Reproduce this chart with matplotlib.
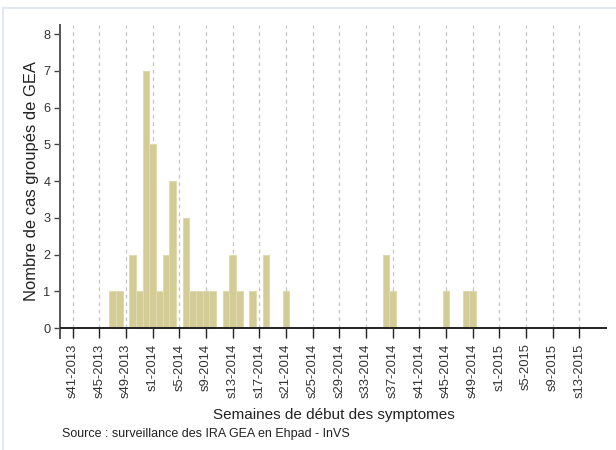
import matplotlib
matplotlib.use('Agg')
import matplotlib.pyplot as plt
from matplotlib.lines import Line2D

# weekly counts of GEA clusters (only non-empty weeks)
case_weeks = ['s47-2013', 's48-2013', 's50-2013', 's51-2013', 's52-2013',
              's1-2014', 's2-2014', 's3-2014', 's4-2014', 's6-2014',
              's7-2014', 's8-2014', 's9-2014', 's10-2014', 's12-2014',
              's13-2014', 's14-2014', 's16-2014', 's18-2014', 's21-2014',
              's36-2014', 's37-2014', 's45-2014', 's48-2014', 's49-2014']
case_counts = [1, 1, 2, 1, 7,
               5, 1, 2, 4, 3,
               1, 1, 1, 1, 1,
               2, 1, 1, 2, 1,
               2, 1, 1, 1, 1]

tick_weeks = ['s41-2013', 's45-2013', 's49-2013', 's1-2014', 's5-2014',
              's9-2014', 's13-2014', 's17-2014', 's21-2014', 's25-2014',
              's29-2014', 's33-2014', 's37-2014', 's41-2014', 's45-2014',
              's49-2014', 's1-2015', 's5-2015', 's9-2015', 's13-2015']
y_ticks = [0, 1, 2, 3, 4, 5, 6, 7, 8]


def week_pos(label):
    # position in weeks counted from s41-2013 (52-week years)
    wk, yr = label[1:].split('-')
    return (int(yr) - 2013) * 52 + int(wk) - 41


plt.rcParams['font.family'] = ['Liberation Sans', 'DejaVu Sans']

fig = plt.figure(figsize=(6.16, 4.5), dpi=100)
ax = fig.add_axes([0.0974, 0.2489, 0.8876, 0.6955])

ymax = 8.25
xs = [week_pos(w) for w in case_weeks]
tx = [week_pos(w) for w in tick_weeks]

# dashed vertical grid at each labelled week
ax.vlines(tx, 0, ymax, colors='#c4c4c4', linestyles=(0, (3, 3)), linewidth=0.9, zorder=1)

ax.bar(xs, case_counts, width=1.0, color='#d3cc96', edgecolor='#e0dbae', linewidth=0.8, zorder=2)

ax.axhline(0, color='#222222', linewidth=1.4, zorder=3)

ax.set_xlim(-1.9, 80.1)
ax.set_ylim(-0.27, ymax)

ax.set_xticks(tx)
ax.set_xticklabels(tick_weeks, rotation=90, fontsize=9.4, color='#333333')
ax.tick_params(axis='x', direction='in', length=7, width=1, color='#222222', pad=4)
ax.set_yticks(y_ticks)
ax.set_yticklabels([str(v) for v in y_ticks], fontsize=9.2, color='#333333')
ax.tick_params(axis='y', direction='out', length=4, width=1, color='#444444', pad=3)

for s in ['top', 'right', 'bottom']:
    ax.spines[s].set_visible(False)
ax.spines['left'].set_color('#555555')
ax.spines['left'].set_linewidth(1.4)

ax.set_ylabel('Nombre de cas groupés de GEA', fontsize=11.9, color='#222222', labelpad=3)
ax.set_xlabel('Semaines de début des symptomes', fontsize=11, color='#222222', labelpad=7)

fig.text(0.1, 0.029, 'Source : surveillance des IRA GEA en Ehpad - InVS', fontsize=9, color='#222222')

# light frame around the chart
fig.add_artist(Line2D([0.005, 1.0], [0.982, 0.982], color='#e2e8ee', linewidth=1.5))
fig.add_artist(Line2D([0.005, 0.005], [0.0, 0.982], color='#e2e8ee', linewidth=1.5))

fig.savefig('out.png', dpi=100)
